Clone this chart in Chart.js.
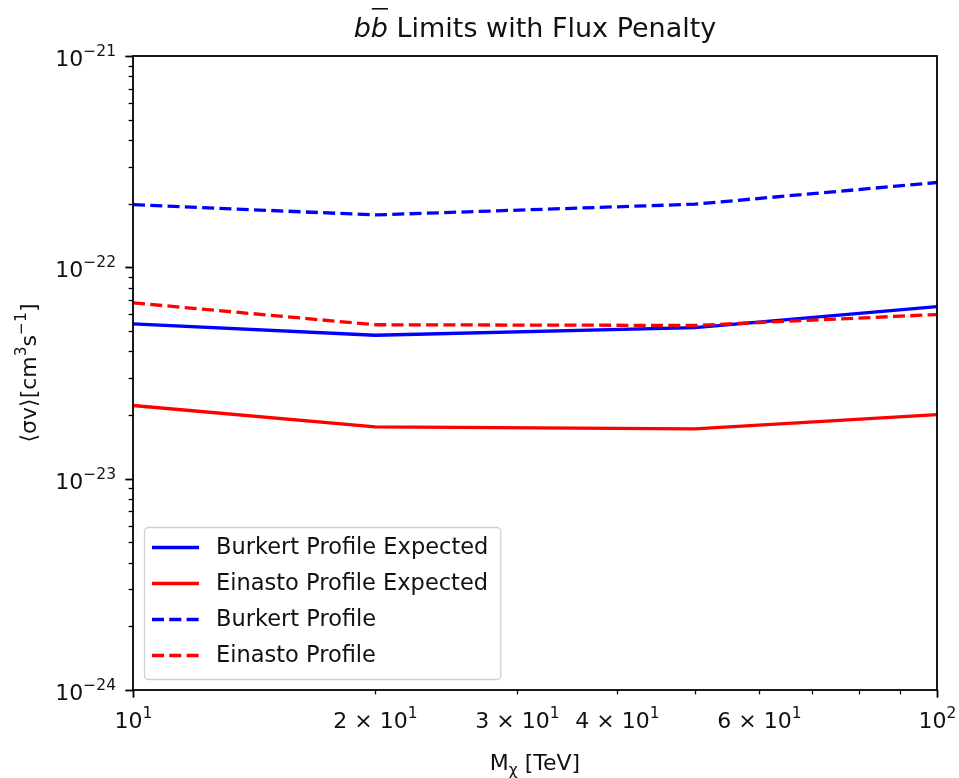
<!DOCTYPE html>
<html>
<head>
<meta charset="utf-8">
<script src="https://cdn.jsdelivr.net/npm/chart.js@4/dist/chart.umd.min.js"></script>
<style>
    html, body { margin: 0; padding: 0; background: #fff; }
    canvas { display: block; }
</style>
</head>
<body>
<canvas id="chart" width="959" height="778"></canvas>
<script>
// masses in TeV and the limits on <sigma v>
const massTeV = [10, 20, 50, 100];
const burkertExpected = [5.40e-23, 4.77e-23, 5.18e-23, 6.52e-23];
const einastoExpected = [2.22e-23, 1.76e-23, 1.72e-23, 2.01e-23];
const burkertLimit = [1.98e-22, 1.77e-22, 1.99e-22, 2.52e-22];
const einastoLimit = [6.79e-23, 5.35e-23, 5.31e-23, 5.98e-23];

// tick labels: [mantissa, exponent], empty mantissa means plain 10^n
const xTickValues = [10, 20, 30, 40, 50, 60, 70, 80, 90, 100];
const xTickLabels = [['', '1'], ['2 × ', '1'], ['3 × ', '1'], ['4 × ', '1'], null, ['6 × ', '1'], null, null, null, ['', '2']];
const xMajor = [10, 100];

const yDecades = [1e-24, 1e-23, 1e-22, 1e-21];
const yDecadeLabels = [['', '−24'], ['', '−23'], ['', '−22'], ['', '−21']];
const yMinorSteps = [2, 3, 4, 5, 6, 7, 8, 9];

const FONT = '"DejaVu Sans", sans-serif';
const TEXT = '#111';
const SIZE = 22;
const SUP = 15.5;

const yTickValues = [];
yDecades.forEach((d, i) => {
    yTickValues.push(d);
    if (i < yDecades.length - 1) yMinorSteps.forEach(k => yTickValues.push(k * d));
});

const points = (ys) => massTeV.map((x, i) => ({x, y: ys[i]}));

const series = [
    {label: 'Burkert Profile Expected', data: burkertExpected, color: '#0000ff', dash: []},
    {label: 'Einasto Profile Expected', data: einastoExpected, color: '#ff0000', dash: []},
    {label: 'Burkert Profile', data: burkertLimit, color: '#0000ff', dash: [12, 5.3]},
    {label: 'Einasto Profile', data: einastoLimit, color: '#ff0000', dash: [12, 5.3]},
];

// text made of normal and raised pieces: [[text, raised], ...]
function richWidth(ctx, parts) {
    let w = 0;
    parts.forEach(([t, sup]) => {
        ctx.font = `${sup ? SUP : SIZE}px ${FONT}`;
        w += ctx.measureText(t).width;
    });
    return w;
}

function drawRich(ctx, parts, x, y, align) {
    const w = richWidth(ctx, parts);
    let px = align === 'right' ? x - w : align === 'center' ? x - w / 2 : x;
    ctx.textAlign = 'left';
    ctx.textBaseline = 'alphabetic';
    parts.forEach(([t, sup]) => {
        ctx.font = `${sup ? SUP : SIZE}px ${FONT}`;
        ctx.fillText(t, px, sup ? y - 10 : y);
        px += ctx.measureText(t).width;
    });
}

function powerParts(label) {
    return [[label[0] + '10', false], [label[1], true]];
}

const overlay = {
    id: 'overlay',
    afterDraw(chart) {
        const {ctx, chartArea: a, scales} = chart;
        ctx.save();
        ctx.strokeStyle = '#000';
        ctx.fillStyle = TEXT;

        // tick marks (outward) and labels
        scales.x.ticks.forEach((t, i) => {
            const px = Math.round(scales.x.getPixelForValue(t.value)) + 0.5;
            const major = xMajor.includes(t.value);
            ctx.lineWidth = major ? 1.8 : 1.3;
            ctx.beginPath();
            ctx.moveTo(px, a.bottom);
            ctx.lineTo(px, a.bottom + (major ? 7.7 : 4.4));
            ctx.stroke();
            const label = xTickLabels[xTickValues.indexOf(t.value)];
            if (label) drawRich(ctx, powerParts(label), px, a.bottom + 38, 'center');
        });
        scales.y.ticks.forEach(t => {
            const py = Math.round(scales.y.getPixelForValue(t.value)) + 0.5;
            const di = yDecades.indexOf(t.value);
            const major = di >= 0;
            ctx.lineWidth = major ? 1.8 : 1.3;
            ctx.beginPath();
            ctx.moveTo(a.left, py);
            ctx.lineTo(a.left - (major ? 7.7 : 4.4), py);
            ctx.stroke();
            if (major) drawRich(ctx, powerParts(yDecadeLabels[di]), a.left - 17, py + 9, 'right');
        });

        // frame
        ctx.lineWidth = 1.8;
        ctx.strokeRect(a.left, a.top, a.right - a.left, a.bottom - a.top);

        ctx.textBaseline = 'alphabetic';
        ctx.textAlign = 'left';

        // title: b bbar Limits with Flux Penalty
        const cx = (a.left + a.right) / 2;
        ctx.font = `italic 27px ${FONT}`;
        const wb = ctx.measureText('b').width;
        ctx.font = `27px ${FONT}`;
        const rest = ' Limits with Flux Penalty';
        const wr = ctx.measureText(rest).width;
        const tx = cx - (2 * wb + wr) / 2;
        const ty = 37;
        ctx.font = `italic 27px ${FONT}`;
        ctx.fillText('b', tx, ty);
        ctx.fillText('b', tx + wb, ty);
        ctx.fillRect(tx + wb + 1, 8, wb - 1, 1.6);
        ctx.font = `27px ${FONT}`;
        ctx.fillText(rest, tx + 2 * wb, ty);

        // x title: M_chi [TeV]
        ctx.font = `${SIZE}px ${FONT}`;
        const wM = ctx.measureText('M').width;
        const wT = ctx.measureText(' [TeV]').width;
        ctx.font = `${SUP}px ${FONT}`;
        const wc = ctx.measureText('χ').width;
        const xx = cx - (wM + wc + wT) / 2;
        const xy = 770;
        ctx.font = `${SIZE}px ${FONT}`;
        ctx.fillText('M', xx, xy);
        ctx.font = `${SUP}px ${FONT}`;
        ctx.fillText('χ', xx + wM, xy + 5);
        ctx.font = `${SIZE}px ${FONT}`;
        ctx.fillText(' [TeV]', xx + wM + wc, xy);

        // y title
        ctx.save();
        ctx.translate(36, (a.top + a.bottom) / 2);
        ctx.rotate(-Math.PI / 2);
        drawRich(ctx, [['⟨σv⟩[cm', false], ['3', true], ['s', false], ['−1', true], [']', false]], 0, 0, 'center');
        ctx.restore();

        // legend, lower left inside the axes
        ctx.font = `22.5px ${FONT}`;
        const textW = Math.max(...series.map(s => ctx.measureText(s.label).width));
        const boxW = textW + 84;
        const boxH = 152;
        const bx = a.left + 11;
        const by = a.bottom - 11 - boxH;
        ctx.beginPath();
        ctx.roundRect(bx + 0.5, by + 0.5, boxW, boxH, 4);
        ctx.fillStyle = 'rgba(255,255,255,0.8)';
        ctx.fill();
        ctx.strokeStyle = '#d0d0d0';
        ctx.lineWidth = 1.3;
        ctx.stroke();
        series.forEach((s, i) => {
            const ry = by + 20.5 + i * 36;
            ctx.strokeStyle = s.color;
            ctx.lineWidth = 3.3;
            ctx.setLineDash(s.dash);
            ctx.beginPath();
            ctx.moveTo(bx + 8, ry);
            ctx.lineTo(bx + 55, ry);
            ctx.stroke();
            ctx.setLineDash([]);
            ctx.fillStyle = TEXT;
            ctx.textBaseline = 'middle';
            ctx.fillText(s.label, bx + 72, ry + 1);
        });

        ctx.restore();
    }
};

new Chart(document.getElementById('chart'), {
    type: 'line',
    data: {
        datasets: series.map((s, i) => ({
            label: s.label,
            data: points(s.data),
            borderColor: s.color,
            backgroundColor: s.color,
            borderWidth: 3.3,
            borderDash: s.dash,
            pointRadius: 0,
            tension: 0,
            fill: false,
            order: series.length - i
        }))
    },
    options: {
        responsive: false,
        animation: false,
        layout: {
            padding: {left: 0, right: 22, top: 56, bottom: 0}
        },
        plugins: {
            legend: {display: false},
            title: {display: false},
            tooltip: {enabled: false}
        },
        scales: {
            x: {
                type: 'logarithmic',
                min: 10,
                max: 100,
                grid: {display: false, drawTicks: false},
                border: {display: false},
                afterBuildTicks: (scale) => {
                    scale.ticks = xTickValues.map(value => ({value}));
                },
                afterFit: (scale) => {
                    scale.height = 88;
                },
                ticks: {display: false, autoSkip: false}
            },
            y: {
                type: 'logarithmic',
                min: 1e-24,
                max: 1e-21,
                grid: {display: false, drawTicks: false},
                border: {display: false},
                afterBuildTicks: (scale) => {
                    scale.ticks = yTickValues.map(value => ({value}));
                },
                afterFit: (scale) => {
                    scale.width = 133;
                },
                ticks: {display: false, autoSkip: false}
            }
        }
    },
    plugins: [overlay]
});
</script>
</body>
</html>
